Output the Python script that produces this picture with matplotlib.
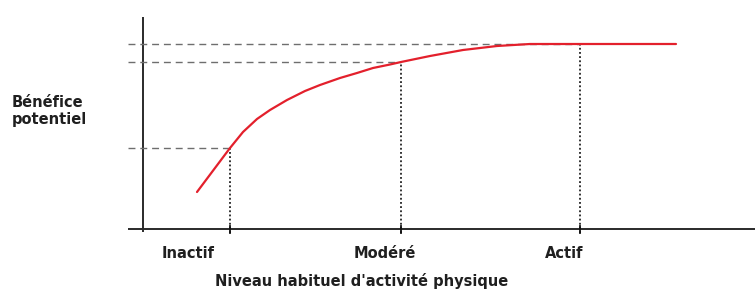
import matplotlib
matplotlib.use("Agg")
import matplotlib.pyplot as plt

# ---- data (arbitrary units) ----
levels = ["Inactif", "Modéré", "Actif"]
level_x = [87, 258, 437]          # position of each activity level on the x scale
level_benefit = [81, 167, 185]    # benefit reached at each level

curve_x = [54, 87, 100, 114, 127, 144, 162, 177, 197, 214, 230, 247, 258,
           287, 320, 354, 387, 437, 533]
curve_y = [37, 81, 97, 110, 119, 129, 138, 144, 151, 156, 161, 164.5, 167,
           173, 179, 183, 185, 185, 185]

ylabel_text = "Bénéfice\npotentiel"
xlabel_text = "Niveau habituel d'activité physique"

# ---- figure ----
W, H = 755, 291
fig = plt.figure(figsize=(W / 100, H / 100), dpi=100)
ax = fig.add_axes([0, 0, 1, 1])
ax.set_xlim(-143, W - 143)
ax.set_ylim(229 - H, 229)
ax.axis("off")

axis_color = "#2a2a2a"
# axes lines
ax.plot([-15, W - 143], [0, 0], color=axis_color, lw=1.4, solid_capstyle="butt")
ax.plot([0, 0], [-3, 212], color=axis_color, lw=1.4, solid_capstyle="butt")

# guide lines
for lx, lb in zip(level_x, level_benefit):
    ax.plot([-15, lx], [lb, lb], color="#6e6e6e", lw=1.0,
            linestyle=(0, (5, 3.5)))
    ax.plot([lx, lx], [-4, lb], color="#111111", lw=1.2,
            linestyle=(0, (1.1, 1.4)))
    ax.plot([lx, lx], [-4, 3], color="#111111", lw=1.3)

# curve
ax.plot(curve_x, curve_y, color="#e3202c", lw=1.6, solid_capstyle="round",
        solid_joinstyle="round")

# text
font = dict(family="DejaVu Sans", fontweight="bold", color="#1f1f1f")
label_centers_px = [188, 385, 564]
for lab, cx in zip(levels, label_centers_px):
    fig.text(cx / W, 1 - 253 / H, lab, ha="center", va="center",
             fontsize=10.5, **font)

fig.text(362 / W, 1 - 281 / H, xlabel_text, ha="center", va="center",
         fontsize=10.5, **font)
fig.text(12 / W, 1 - 111 / H, ylabel_text, ha="left", va="center",
         fontsize=10.5, linespacing=1.1, **font)

fig.savefig("out.png", dpi=100)
